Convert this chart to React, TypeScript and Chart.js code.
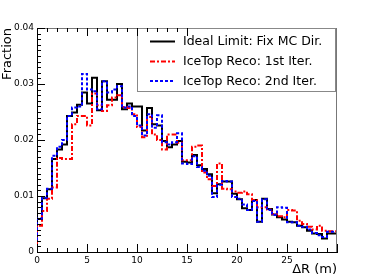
import React, { useEffect, useRef } from "react";
import { Chart, registerables } from "chart.js";
Chart.register(...registerables);

const BIN_WIDTH = 0.5;
const X_MIN = 0;
const X_MAX = 30;
const Y_MIN = 0;
const Y_MAX = 0.04;

const idealLimit = [
  0.0020, 0.0059, 0.0096, 0.0112, 0.0166, 0.0183, 0.0192, 0.0243, 0.0249, 0.0263,
  0.0285, 0.0265, 0.0311, 0.0253, 0.0305, 0.0272, 0.0272, 0.0300, 0.0255, 0.0265,
  0.0260, 0.0260, 0.0217, 0.0257, 0.0228, 0.0226, 0.0198, 0.0187, 0.0192, 0.0198,
  0.0161, 0.0160, 0.0173, 0.0155, 0.0148, 0.0139, 0.0105, 0.0121, 0.0126, 0.0126,
  0.0104, 0.0094, 0.0078, 0.0075, 0.0093, 0.0054, 0.0095, 0.0077, 0.0067, 0.0062,
  0.0058, 0.0054, 0.0053, 0.0047, 0.0044, 0.0038, 0.0033, 0.0032, 0.0024, 0.0033,
];

const iceTop1st = [
  0.0011, 0.0047, 0.0073, 0.0095, 0.0115, 0.0168, 0.0166, 0.0166, 0.0228, 0.0243,
  0.0243, 0.0226, 0.0283, 0.0262, 0.0252, 0.0262, 0.0276, 0.0280, 0.0259, 0.0257,
  0.0246, 0.0223, 0.0205, 0.0241, 0.0210, 0.0200, 0.0183, 0.0210, 0.0210, 0.0195,
  0.0164, 0.0164, 0.0188, 0.0190, 0.0142, 0.0130, 0.0118, 0.0158, 0.0113, 0.0112,
  0.0108, 0.0106, 0.0108, 0.0103, 0.0093, 0.0080, 0.0080, 0.0076, 0.0068, 0.0064,
  0.0062, 0.0075, 0.0074, 0.0056, 0.0050, 0.0045, 0.0040, 0.0047, 0.0038, 0.0037,
];

const iceTop2nd = [
  0.0021, 0.0060, 0.0097, 0.0113, 0.0172, 0.0188, 0.0200, 0.0243, 0.0258, 0.0260,
  0.0318, 0.0290, 0.0287, 0.0255, 0.0305, 0.0285, 0.0290, 0.0296, 0.0258, 0.0260,
  0.0243, 0.0226, 0.0208, 0.0246, 0.0222, 0.0244, 0.0196, 0.0192, 0.0196, 0.0212,
  0.0158, 0.0157, 0.0171, 0.0152, 0.0145, 0.0136, 0.0098, 0.0120, 0.0127, 0.0126,
  0.0098, 0.0095, 0.0085, 0.0075, 0.0091, 0.0054, 0.0094, 0.0075, 0.0066, 0.0080,
  0.0079, 0.0053, 0.0053, 0.0047, 0.0045, 0.0040, 0.0034, 0.0030, 0.0027, 0.0036,
];

const seriesNames = [
  "Ideal Limit: Fix MC Dir.",
  "IceTop Reco: 1st Iter.",
  "IceTop Reco: 2nd Iter.",
];
const xTickValues = [0, 5, 10, 15, 20, 25];
const xTickLabels = ["0", "5", "10", "15", "20", "25"];
const yTickValues = [0, 0.01, 0.02, 0.03, 0.04];
const yTickLabels = ["0", "0.01", "0.02", "0.03", "0.04"];
const xTitle = "\u0394R (m)";
const yTitle = "Fraction";

const FONT = "'DejaVu Sans', sans-serif";
const COLORS = ["#000000", "#ff0000", "#0000ff"];
const DASHES: number[][] = [[], [5, 2, 2, 2], [3, 2]];

function toSteps(values: number[]) {
  const pts = values.map((v, i) => ({ x: X_MIN + i * BIN_WIDTH, y: v }));
  pts.push({ x: X_MIN + values.length * BIN_WIDTH, y: values[values.length - 1] });
  return pts;
}

const rootDecor = {
  id: "rootDecor",
  afterDraw(chart: any) {
    const { ctx, chartArea: a, scales } = chart;
    const xs = scales.x;
    const ys = scales.y;
    ctx.save();
    // frame top / right
    ctx.strokeStyle = "#777";
    ctx.lineWidth = 1;
    ctx.beginPath();
    ctx.moveTo(a.left, a.top + 0.5);
    ctx.lineTo(a.right, a.top + 0.5);
    ctx.moveTo(a.right - 0.5, a.top);
    ctx.lineTo(a.right - 0.5, a.bottom);
    ctx.stroke();

    // legend box
    const lx0 = 137, ly0 = 28, lx1 = 336, ly1 = 92;
    ctx.fillStyle = "#ffffff";
    ctx.fillRect(lx0, ly0, lx1 - lx0, ly1 - ly0);
    ctx.strokeStyle = "#888";
    ctx.strokeRect(lx0 + 0.5, ly0 + 0.5, lx1 - lx0 - 1, ly1 - ly0 - 1);
    const rows = [41.5, 61.5, 81];
    seriesNames.forEach((name, i) => {
      ctx.strokeStyle = COLORS[i];
      ctx.lineWidth = 2;
      ctx.setLineDash(DASHES[i]);
      ctx.beginPath();
      ctx.moveTo(150, rows[i]);
      ctx.lineTo(175, rows[i]);
      ctx.stroke();
      ctx.setLineDash([]);
      ctx.fillStyle = "#000";
      ctx.font = `12.5px ${FONT}`;
      ctx.textAlign = "left";
      ctx.textBaseline = "middle";
      ctx.fillText(name, 183, rows[i] + 0.5);
    });

    // inward ticks
    ctx.strokeStyle = "#000";
    ctx.lineWidth = 1;
    ctx.beginPath();
    const nX = Math.round(X_MAX - X_MIN);
    for (let i = 0; i <= nX; i++) {
      const v = X_MIN + i;
      const px = Math.round(xs.getPixelForValue(v)) + 0.5;
      const len = i % 5 === 0 ? 8 : 4;
      ctx.moveTo(px, a.bottom);
      ctx.lineTo(px, a.bottom - len);
      if (v <= 15) {
        ctx.moveTo(px, a.top);
        ctx.lineTo(px, a.top + len);
      }
    }
    const nY = 40;
    for (let i = 0; i <= nY; i++) {
      const v = Y_MIN + (i * (Y_MAX - Y_MIN)) / nY;
      const py = Math.round(ys.getPixelForValue(v)) + 0.5;
      const len = i % 10 === 0 ? 8 : 4;
      ctx.moveTo(a.left, py);
      ctx.lineTo(a.left + len, py);
    }
    ctx.stroke();
    ctx.restore();
  },
};

export default function App() {
  const ref = useRef<HTMLCanvasElement | null>(null);
  useEffect(() => {
    if (!ref.current) return;
    const series = [idealLimit, iceTop1st, iceTop2nd];
    const chart = new Chart(ref.current, {
      type: "line",
      data: {
        datasets: series.map((vals, i) => ({
          label: seriesNames[i],
          data: toSteps(vals),
          borderColor: COLORS[i],
          borderWidth: 2,
          borderDash: DASHES[i],
          stepped: "after" as const,
          pointRadius: 0,
          fill: false,
          tension: 0,
          order: 2 - i,
        })),
      },
      options: {
        responsive: false,
        animation: false,
        events: [],
        layout: { padding: { left: 0, right: 37, top: 28, bottom: 0 } },
        plugins: { legend: { display: false }, tooltip: { enabled: false } },
        scales: {
          x: {
            type: "linear",
            min: X_MIN,
            max: X_MAX,
            afterBuildTicks: (s: any) => {
              s.ticks = xTickValues.map((v) => ({ value: v }));
            },
            afterFit: (s: any) => {
              s.height = 28;
            },
            grid: { display: false, drawTicks: false },
            border: { display: true, color: "#000", width: 1 },
            ticks: {
              autoSkip: false,
              maxRotation: 0,
              padding: 3,
              color: "#000",
              font: { family: FONT, size: 9 },
              callback: (v: any) => {
                const idx = xTickValues.indexOf(Number(v));
                return idx >= 0 ? xTickLabels[idx] : "";
              },
            },
            title: {
              display: true,
              text: xTitle,
              align: "end",
              color: "#000",
              font: { family: FONT, size: 13 },
              padding: { top: 0, bottom: 3 },
            },
          },
          y: {
            type: "linear",
            min: Y_MIN,
            max: Y_MAX,
            afterBuildTicks: (s: any) => {
              s.ticks = yTickValues.map((v) => ({ value: v }));
            },
            afterFit: (s: any) => {
              s.width = 37;
            },
            grid: { display: false, drawTicks: false },
            border: { display: true, color: "#000", width: 1 },
            ticks: {
              autoSkip: false,
              padding: 3,
              color: "#000",
              font: { family: FONT, size: 9 },
              callback: (v: any) => {
                const idx = yTickValues.findIndex((t) => Math.abs(t - Number(v)) < 1e-9);
                return idx >= 0 ? yTickLabels[idx] : "";
              },
            },
            title: {
              display: true,
              text: yTitle,
              align: "end",
              color: "#000",
              font: { family: FONT, size: 13 },
              padding: { top: 0, bottom: 0 },
            },
          },
        },
      },
      plugins: [rootDecor],
    });
    return () => chart.destroy();
  }, []);
  return (
    <div style={{ position: "absolute", left: 0, top: 0, width: 374, height: 280, background: "#fff" }}>
      <canvas ref={ref} width={374} height={280} style={{ display: "block" }} />
    </div>
  );
}
